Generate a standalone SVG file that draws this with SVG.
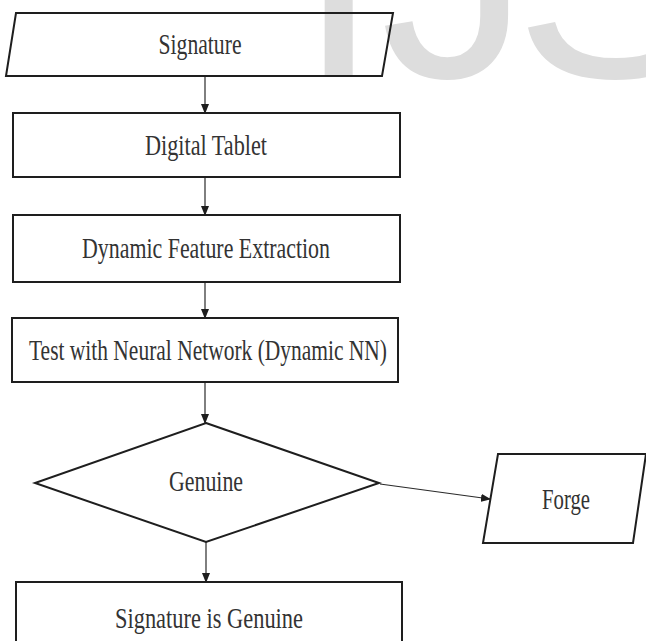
<svg xmlns="http://www.w3.org/2000/svg" width="646" height="641" viewBox="0 0 646 641">
<style>
.wm{font-family:"Liberation Sans",Arial,sans-serif;font-size:300px;fill:#dddddd}
.shape{fill:none;stroke:#1e1e1e;stroke-width:2}
.lbl{font-family:"Liberation Serif","Times New Roman",serif;font-size:28.5px;fill:#333333;text-anchor:middle}
.conn{stroke:#2a2a2a;stroke-width:1.2;fill:none;marker-end:url(#ah)}
</style>
<defs>
<marker id="ah" markerWidth="10" markerHeight="8" refX="9" refY="4" orient="auto" markerUnits="userSpaceOnUse">
<path d="M0,0 L10,4 L0,8 Z" fill="#1e1e1e"/>
</marker>
</defs>
<rect width="646" height="641" fill="#ffffff"/>
<g id="watermark">
<text class="wm" x="297" y="77">IJ<tspan dx="-16">S</tspan></text>
</g>
<g id="connectors">
<line class="conn" x1="205" y1="76" x2="205" y2="113"/>
<line class="conn" x1="205" y1="177" x2="205" y2="215"/>
<line class="conn" x1="205" y1="282" x2="205" y2="318"/>
<line class="conn" x1="205" y1="382" x2="205" y2="423"/>
<line class="conn" x1="206" y1="542" x2="206" y2="582"/>
<line class="conn" x1="380" y1="484" x2="490" y2="499"/>
</g>
<g id="signature">
<polygon class="shape" points="16,13 393,13 382,76 6,76"/>
<text class="lbl" x="200" y="54" textLength="83" lengthAdjust="spacingAndGlyphs">Signature</text>
</g>
<g id="digital-tablet">
<rect class="shape" x="13" y="113" width="387" height="64"/>
<text class="lbl" x="206" y="155" textLength="122" lengthAdjust="spacingAndGlyphs">Digital Tablet</text>
</g>
<g id="feature-extraction">
<rect class="shape" x="13" y="215" width="387" height="67"/>
<text class="lbl" x="206" y="258" textLength="248" lengthAdjust="spacingAndGlyphs">Dynamic Feature Extraction</text>
</g>
<g id="neural-network">
<rect class="shape" x="12" y="318" width="386" height="64"/>
<text class="lbl" x="208" y="360" textLength="358" lengthAdjust="spacingAndGlyphs">Test with Neural Network (Dynamic NN)</text>
</g>
<g id="genuine-decision">
<polygon class="shape" points="206,423 379,483 206,542 35,483"/>
<text class="lbl" x="206" y="491" textLength="74" lengthAdjust="spacingAndGlyphs">Genuine</text>
</g>
<g id="forge">
<polygon class="shape" points="498,454 646,454 633,543 483,543"/>
<text class="lbl" x="566" y="509" textLength="48" lengthAdjust="spacingAndGlyphs">Forge</text>
</g>
<g id="signature-genuine">
<rect class="shape" x="16" y="582" width="386" height="80"/>
<text class="lbl" x="209" y="628" textLength="188" lengthAdjust="spacingAndGlyphs">Signature is Genuine</text>
</g>
</svg>
